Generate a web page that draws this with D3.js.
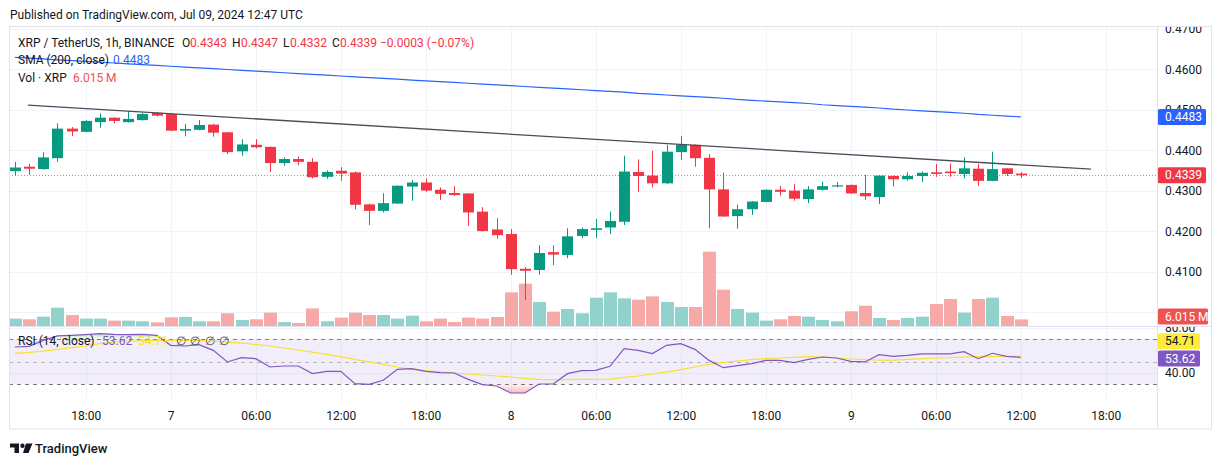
<!DOCTYPE html>
<html><head><meta charset="utf-8">
<script src="https://cdn.jsdelivr.net/npm/d3@7"></script>
<style>
html,body{margin:0;padding:0;background:#fff;}
svg{display:block;font-family:Roboto,"Liberation Sans",Arial,sans-serif;}
</style></head><body>
<svg id="c" width="1224" height="464"></svg>
<script>
// ---------------- DATA ----------------
const firstCandle = "2024-07-06T13:00:00Z"; // hourly candles, XRP/USDT 1h
const opens  = [0.4349,0.4360,0.4354,0.4381,0.4454,0.4446,0.4470,0.4481,0.4470,0.4475,
                0.4493,0.4490,0.4449,0.4451,0.4464,0.4445,0.4398,0.4414,0.4409,0.4369,
                0.4379,0.4372,0.4335,0.4350,0.4346,0.4267,0.4251,0.4269,0.4311,0.4321,
                0.4303,0.4295,0.4294,0.4249,0.4205,0.4194,0.4108,0.4105,0.4149,0.4142,
                0.4189,0.4204,0.4210,0.4224,0.4347,0.4338,0.4319,0.4396,0.4414,0.4382,
                0.4304,0.4238,0.4255,0.4273,0.4303,0.4301,0.4280,0.4303,0.4311,0.4315,
                0.4295,0.4285,0.4337,0.4329,0.4337,0.4346,0.4348,0.4342,0.4355,0.4325,
                0.4356,0.4343];
const highs  = [0.4372,0.4367,0.4396,0.4467,0.4458,0.4475,0.4492,0.4482,0.4498,0.4493,
                0.4495,0.4493,0.4465,0.4475,0.4466,0.4446,0.4428,0.4428,0.4410,0.4383,
                0.4385,0.4381,0.4351,0.4359,0.4348,0.4269,0.4294,0.4314,0.4327,0.4331,
                0.4309,0.4312,0.4295,0.4260,0.4233,0.4206,0.4112,0.4166,0.4166,0.4208,
                0.4210,0.4231,0.4249,0.4387,0.4378,0.4399,0.4414,0.4436,0.4415,0.4391,
                0.4345,0.4266,0.4275,0.4304,0.4313,0.4317,0.4312,0.4323,0.4322,0.4316,
                0.4340,0.4339,0.4338,0.4346,0.4348,0.4367,0.4368,0.4383,0.4367,0.4397,
                0.4357,0.4347];
const lows   = [0.4338,0.4340,0.4353,0.4372,0.4436,0.4445,0.4456,0.4467,0.4469,0.4474,
                0.4484,0.4448,0.4435,0.4450,0.4434,0.4391,0.4387,0.4405,0.4347,0.4362,
                0.4364,0.4331,0.4330,0.4325,0.4255,0.4216,0.4247,0.4268,0.4276,0.4298,
                0.4278,0.4288,0.4214,0.4200,0.4182,0.4093,0.4031,0.4093,0.4117,0.4134,
                0.4184,0.4183,0.4194,0.4216,0.4298,0.4309,0.4317,0.4377,0.4360,0.4208,
                0.4236,0.4207,0.4241,0.4272,0.4289,0.4276,0.4270,0.4301,0.4309,0.4293,
                0.4278,0.4268,0.4311,0.4326,0.4322,0.4335,0.4335,0.4331,0.4313,0.4324,
                0.4337,0.4332];
const closes = [0.4358,0.4355,0.4383,0.4454,0.4447,0.4473,0.4481,0.4473,0.4478,0.4490,
                0.4486,0.4449,0.4453,0.4463,0.4444,0.4396,0.4415,0.4408,0.4369,0.4379,
                0.4372,0.4334,0.4347,0.4343,0.4266,0.4251,0.4270,0.4313,0.4321,0.4301,
                0.4293,0.4290,0.4247,0.4201,0.4191,0.4107,0.4103,0.4147,0.4143,0.4188,
                0.4206,0.4208,0.4226,0.4348,0.4337,0.4319,0.4397,0.4414,0.4381,0.4304,
                0.4237,0.4255,0.4274,0.4303,0.4298,0.4281,0.4304,0.4312,0.4314,0.4294,
                0.4287,0.4338,0.4329,0.4337,0.4345,0.4342,0.4344,0.4356,0.4325,0.4354,
                0.4342,0.4339];
const volumesM = [6.7,6.1,8.5,16.7,10.0,6.7,6.7,4.9,4.9,4.3,
                  3.3,7.9,8.2,4.3,4.3,11.6,5.5,6.1,12.2,3.6,
                  2.7,16.0,4.3,7.6,12.2,10.0,10.0,6.7,9.4,4.3,
                  6.7,3.6,7.6,6.7,8.2,30.7,38.6,21.9,13.1,15.5,
                  11.6,25.8,30.7,25.2,24.0,27.0,21.9,17.3,17.3,67.8,
                  33.1,15.5,12.2,4.9,6.1,9.1,8.5,5.5,4.3,13.4,
                  18.5,7.3,5.5,7.3,8.5,20.0,24.6,12.2,24.6,25.8,
                  9.1,6.015];
const sma200 = [0.4630,0.4628,0.4626,0.4624,0.4622,0.4620,0.4618,0.4616,0.4614,0.4612,
                0.4610,0.4608,0.4606,0.4604,0.4602,0.4600,0.4598,0.4596,0.4594,0.4592,
                0.4590,0.4588,0.4586,0.4584,0.4582,0.4580,0.4578,0.4576,0.4574,0.4572,
                0.4570,0.4568,0.4566,0.4564,0.4562,0.4560,0.4558,0.4556,0.4554,0.4552,
                0.4550,0.4548,0.4546,0.4544,0.4541,0.4539,0.4537,0.4535,0.4533,0.4531,
                0.4529,0.4526,0.4524,0.4522,0.4520,0.4518,0.4516,0.4513,0.4511,0.4509,
                0.4507,0.4505,0.4502,0.4500,0.4498,0.4496,0.4494,0.4492,0.4489,0.4487,
                0.4485,0.4483];
const rsi14 = [62.9,63.5,68.8,72.7,73.3,73.9,74.7,74.1,73.9,74.1,
               73.3,64.4,63.8,65.0,59.9,49.6,53.4,52.5,45.1,46.0,
               46.0,39.2,41.3,41.3,30.3,29.7,33.3,43.0,43.6,41.3,
               40.1,39.8,34.1,29.4,28.2,22.0,22.0,30.0,30.0,39.2,
               41.9,42.1,45.7,61.4,59.9,57.0,64.4,65.9,60.8,51.0,
               44.5,46.3,48.1,51.0,51.0,49.0,51.9,54.0,53.1,50.1,
               49.6,56.1,54.6,55.5,56.7,56.7,56.7,58.7,52.5,57.3,
               54.6,53.62];
const rsiMA = [57.3,58.1,59.3,60.8,62.3,63.8,65.9,67.3,68.2,68.5,
               68.8,68.8,68.8,68.5,68.2,67.3,66.4,65.3,63.8,62.0,
               60.2,58.4,56.4,54.3,51.9,49.6,47.5,45.1,43.0,41.9,
               40.7,39.8,38.9,38.0,37.1,36.2,35.0,34.1,33.9,33.9,
               34.1,34.1,34.4,35.9,37.1,38.9,40.7,42.7,45.1,47.5,
               49.3,50.4,51.6,52.5,53.1,53.7,54.3,54.0,53.1,52.2,
               51.6,51.3,51.3,51.9,52.5,53.1,53.4,54.0,54.3,54.6,
               54.6,54.71];
const trendTimes  = ["2024-07-06T13:55:00Z","2024-07-09T16:57:00Z"];
const trendPrices = [0.4512, 0.4354];
const priceTickValues = [0.41,0.42,0.43,0.44,0.45,0.46,0.47];
const priceGridValues = [0.40,0.41,0.42,0.43,0.44,0.45,0.46,0.47];
const rsiTickValues = [80, 40];
const rsiBands = [70, 50, 30];

// ---------------- LAYOUT ----------------
const L = 9, R = 1157, FR = 1212;
const mainTop = 27, mainBot = 326, rsiBot = 400, axisBot = 429;
const ink = "#131722", up = "#089981", down = "#f23645";
const upVol = "#92d2cc", downVol = "#f7a9a7";
const svg = d3.select("#c");

const times = d3.utcHour.range(new Date(firstCandle), d3.utcHour.offset(new Date(firstCandle), opens.length));
const candles = times.map((t,i)=>({t, o:opens[i], h:highs[i], l:lows[i], c:closes[i], v:volumesM[i], sma:sma200[i], rsi:rsi14[i], ma:rsiMA[i]}));

const x = d3.scaleUtc().domain([new Date("2024-07-06T12:35:00Z"), new Date("2024-07-09T21:37:00Z")]).range([L, R]);
const y = d3.scaleLinear().domain([0.41, 0.47]).range([272, 29]);
const yv = d3.scaleLinear().domain([0, 100]).range([mainBot, mainBot - 109.7]);
const yr = d3.scaleLinear().domain([30, 70]).range([384, 339]);

const defs = svg.append("defs");
function clip(id, x0, y0, w, h){ defs.append("clipPath").attr("id", id).append("rect").attr("x",x0).attr("y",y0).attr("width",w).attr("height",h); }
clip("cMain", L, mainTop, R-L, mainBot-mainTop);
clip("cRsi", L, mainBot, R-L, rsiBot-mainBot);
clip("cPAx", R, mainTop, FR-R, mainBot-mainTop);
clip("cRAx", R, mainBot+1, FR-R, rsiBot-mainBot);
const gOB = defs.append("linearGradient").attr("id","gOB").attr("x1",0).attr("x2",0).attr("y1",0).attr("y2",1);
gOB.append("stop").attr("offset","0").attr("stop-color","rgba(76,175,80,0.35)");
gOB.append("stop").attr("offset","1").attr("stop-color","rgba(76,175,80,0.05)");
const gOS = defs.append("linearGradient").attr("id","gOS").attr("x1",0).attr("x2",0).attr("y1",0).attr("y2",1);
gOS.append("stop").attr("offset","0").attr("stop-color","rgba(242,54,69,0.05)");
gOS.append("stop").attr("offset","1").attr("stop-color","rgba(242,54,69,0.35)");

// grid
const gridG = svg.append("g");
const timeTicks = x.ticks(d3.utcHour.every(6));
gridG.selectAll("line.v").data(timeTicks).join("line")
  .attr("x1", d=>Math.round(x(d))+0.5).attr("x2", d=>Math.round(x(d))+0.5)
  .attr("y1", mainTop).attr("y2", rsiBot).attr("stroke","#f0f3fa");
gridG.selectAll("line.h").data(priceGridValues).join("line")
  .attr("x1", L).attr("x2", R).attr("y1", d=>Math.round(y(d))+0.5).attr("y2", d=>Math.round(y(d))+0.5)
  .attr("stroke","#f0f3fa").attr("clip-path","url(#cMain)");
gridG.selectAll("line.r").data(rsiTickValues).join("line")
  .attr("x1", L).attr("x2", R).attr("y1", d=>Math.round(yr(d))+0.5).attr("y2", d=>Math.round(yr(d))+0.5)
  .attr("stroke","#f0f3fa").attr("clip-path","url(#cRsi)");

// RSI pane
const rsiG = svg.append("g").attr("clip-path","url(#cRsi)");
rsiG.append("rect").attr("x", L).attr("width", R-L).attr("y", yr(70)).attr("height", yr(30)-yr(70))
  .attr("fill","rgba(126,87,194,0.1)");
rsiG.selectAll("line.band").data(rsiBands).join("line")
  .attr("x1", L).attr("x2", R).attr("y1", d=>Math.round(yr(d))+0.5).attr("y2", d=>Math.round(yr(d))+0.5)
  .attr("stroke", d=> d===50 ? "rgba(120,123,134,0.5)" : "#787b86").attr("stroke-dasharray","4,4");
rsiG.append("path").datum(candles)
  .attr("d", d3.area().x(d=>x(d.t)).y0(yr(70)).y1(d=>yr(Math.max(70,d.rsi))))
  .attr("fill","url(#gOB)");
rsiG.append("path").datum(candles)
  .attr("d", d3.area().x(d=>x(d.t)).y0(yr(30)).y1(d=>yr(Math.min(30,d.rsi))))
  .attr("fill","url(#gOS)");
rsiG.append("path").datum(candles).attr("d", d3.line().x(d=>x(d.t)).y(d=>yr(d.ma)))
  .attr("fill","none").attr("stroke","#f7e034").attr("stroke-width",1.2);
rsiG.append("path").datum(candles).attr("d", d3.line().x(d=>x(d.t)).y(d=>yr(d.rsi)))
  .attr("fill","none").attr("stroke","#7e57c2").attr("stroke-width",1.2);

// main pane
const mainG = svg.append("g").attr("clip-path","url(#cMain)");
mainG.selectAll("rect.vol").data(candles).join("rect")
  .attr("x", d=>Math.round(x(d.t))-6).attr("width", 13)
  .attr("y", d=>yv(d.v)).attr("height", d=>yv(0)-yv(d.v))
  .attr("fill", d=> d.c>=d.o ? upVol : downVol);
// current price line
const last = candles[candles.length-1];
mainG.append("line").attr("x1", L).attr("x2", R)
  .attr("y1", Math.round(y(last.c))+0.5).attr("y2", Math.round(y(last.c))+0.5)
  .attr("stroke", down).attr("stroke-opacity",0.7).attr("stroke-dasharray","1,2");
// candles
const cg = mainG.selectAll("g.cndl").data(candles).join("g");
cg.append("line")
  .attr("x1", d=>Math.round(x(d.t))+0.5).attr("x2", d=>Math.round(x(d.t))+0.5)
  .attr("y1", d=>y(d.h)).attr("y2", d=>y(d.l))
  .attr("stroke", d=> d.c>=d.o ? up : down);
cg.append("rect")
  .attr("x", d=>Math.round(x(d.t))-5).attr("width", 11)
  .attr("y", d=>y(Math.max(d.o,d.c))).attr("height", d=>Math.max(1, Math.abs(y(d.o)-y(d.c))))
  .attr("fill", d=> d.c>=d.o ? up : down);
// SMA 200
mainG.append("path").datum(candles).attr("d", d3.line().x(d=>x(d.t)).y(d=>y(d.sma)))
  .attr("fill","none").attr("stroke","#2962ff").attr("stroke-width",1.2);
// trendline drawing
mainG.append("line")
  .attr("x1", x(new Date(trendTimes[0]))).attr("y1", y(trendPrices[0]))
  .attr("x2", x(new Date(trendTimes[1]))).attr("y2", y(trendPrices[1]))
  .attr("stroke","#4a4d57").attr("stroke-width",1.3);

// frame & separators
svg.append("rect").attr("x",L+0.5).attr("y",mainTop-0.5).attr("width",FR-L-1).attr("height",axisBot-mainTop+0.5)
  .attr("fill","none").attr("stroke","#e0e3eb");
svg.append("line").attr("x1",R+0.5).attr("x2",R+0.5).attr("y1",mainTop).attr("y2",axisBot).attr("stroke","#e0e3eb");
svg.append("line").attr("x1",L).attr("x2",FR).attr("y1",mainBot+0.5).attr("y2",mainBot+0.5).attr("stroke","#e0e3eb");

// axes (clip on an untransformed wrapper so clip coords are page coords)
const pAx = svg.append("g").attr("clip-path","url(#cPAx)").append("g").attr("transform",`translate(${R},0)`)
  .call(d3.axisRight(y).tickValues(priceTickValues).tickFormat(d3.format(".4f")).tickSize(0).tickPadding(8));
const rAx = svg.append("g").attr("clip-path","url(#cRAx)").append("g").attr("transform",`translate(${R},0)`)
  .call(d3.axisRight(yr).tickValues(rsiTickValues).tickFormat(d3.format(".2f")).tickSize(0).tickPadding(8));
const tAx = svg.append("g").attr("transform",`translate(0,${rsiBot})`)
  .call(d3.axisBottom(x).tickValues(timeTicks)
    .tickFormat(d => d.getUTCHours()===0 ? String(d.getUTCDate()) : d3.utcFormat("%H:%M")(d))
    .tickSize(0).tickPadding(11));
[pAx, rAx, tAx].forEach(g=>{
  g.select(".domain").remove();
  g.selectAll("text").attr("fill", ink).style("font-size","12px").style("font-family","Roboto, 'Liberation Sans', Arial, sans-serif");
});

// axis price labels
function plabel(yy, txt, bg, fg, w, clipId){
  const g = svg.append("g").attr("clip-path", `url(#${clipId})`);
  g.append("rect").attr("x", R+1).attr("y", yy-8).attr("width", w).attr("height", 16).attr("rx",1.5).attr("fill", bg);
  g.append("text").attr("x", R+8).attr("y", yy).attr("dy","0.35em").attr("fill", fg)
    .style("font-size","12px").text(txt);
}
const f4 = d3.format(".4f");
plabel(y(last.sma), f4(last.sma), "#2962ff", "#fff", 48, "cPAx");
plabel(y(last.c), f4(last.c), down, "#fff", 48, "cPAx");
plabel(yv(last.v) - 3, d3.format(".3f")(last.v)+" M", "#ef5350", "#fff", 50, "cPAx");
plabel(yr(last.ma) - 15, d3.format(".2f")(last.ma), "#ffeb3b", ink, 42, "cRAx");
plabel(yr(last.rsi) + 1, d3.format(".2f")(last.rsi), "#7e57c2", "#fff", 42, "cRAx");

// legends
function txt(xx, yy, s, color, size){
  return svg.append("text").attr("x", xx).attr("y", yy).attr("dy","0.35em").attr("fill", color)
    .style("font-size", (size||12)+"px").text(s);
}
txt(10, 15, "Published on TradingView.com, Jul 09, 2024 12:47 UTC", ink);
const prev = candles[candles.length-2];
const chg = last.c - prev.c, pct = chg/prev.c*100;
txt(18, 43, "XRP / TetherUS, 1h, BINANCE", ink);
txt(182, 43, "O", ink); txt(190, 43, f4(last.o), down);
txt(232, 43, "H", ink); txt(241, 43, f4(last.h), down);
txt(283, 43, "L", ink); txt(290, 43, f4(last.l), down);
txt(332, 43, "C", ink); txt(340, 43, f4(last.c), down);
txt(380, 43, (chg<0?"\u2212":"+")+f4(Math.abs(chg))+" ("+(pct<0?"\u2212":"+")+d3.format(".2f")(Math.abs(pct))+"%)", down);
txt(18, 60, "SMA (200, close)", ink); txt(113, 60, f4(last.sma), "#2962ff");
txt(18, 78, "Vol \u00b7 XRP", ink); txt(73, 78, d3.format(".3f")(last.v)+" M", "#ef5350");
txt(18, 341, "RSI (14, close)", ink);
txt(102, 341, d3.format(".2f")(last.rsi), "#7e57c2");
txt(138, 341, d3.format(".2f")(last.ma), "#f7e034");
[176, 190, 205, 219].forEach(xx => txt(xx, 341, "\u2205", "#50535e"));

// TradingView logo
const logo = svg.append("g").attr("fill", ink);
logo.append("path").attr("d","M10,443.5 h9 v9.5 h-4.5 v-5.5 h-4.5 z");
logo.append("circle").attr("cx",22.5).attr("cy",445.7).attr("r",2.2);
logo.append("path").attr("d","M26,443.5 h6.5 l-4,9.5 h-5.5 z");
txt(35, 448, "TradingView", ink, 13).style("font-weight","500");
</script>
</body></html>
